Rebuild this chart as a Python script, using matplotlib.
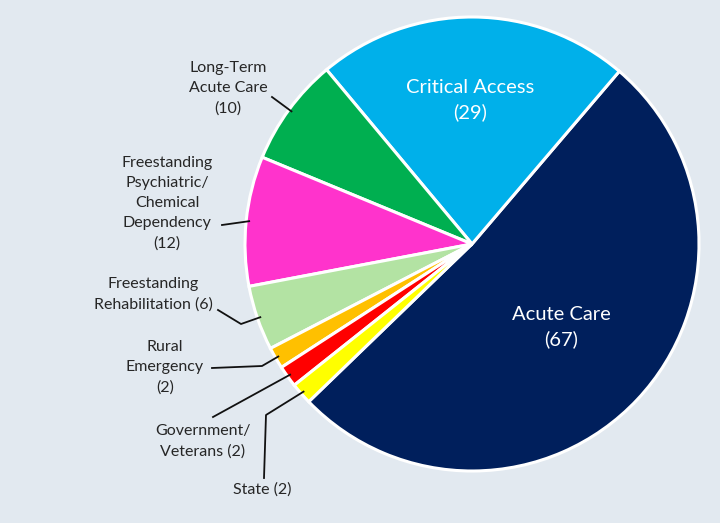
import numpy as np
import matplotlib
matplotlib.use("Agg")
import matplotlib.pyplot as plt

plt.rcParams['font.family'] = ['Lato', 'DejaVu Sans']

# hospital counts by type
names = ["Acute Care", "Critical Access", "Long-Term\nAcute Care", "Freestanding\nPsychiatric/\nChemical\nDependency",
         "Freestanding\nRehabilitation", "Rural\nEmergency", "Government/\nVeterans", "State"]
counts = [67, 29, 10, 12, 6, 2, 2, 2]
colors = ["#001F5C", "#00B0EA", "#00AF50", "#FF33CC", "#B3E3A3", "#FFC000", "#FF0000", "#FFFF00"]

bg = "#E2E9F0"
fig = plt.figure(figsize=(7.2, 5.23), dpi=100, facecolor=bg)
ax = fig.add_axes([0, 0, 1, 1])
ax.set_facecolor(bg)
H = 523
cx, cy, r = 472, H - 244, 227
wedges, _ = ax.pie(counts, colors=colors, startangle=-136, center=(cx, cy), radius=r,
                   wedgeprops=dict(edgecolor="white", linewidth=2.2))
ax.set_xlim(0, 720)
ax.set_ylim(0, H)
ax.set_aspect("equal")
ax.axis("off")

# inner labels
ax.text(470, H - 100, f"{names[1]}\n({counts[1]})", color="white", fontsize=14.5,
        ha="center", va="center", linespacing=1.5)
ax.text(561, H - 327, f"{names[0]}\n({counts[0]})", color="white", fontsize=14.5,
        ha="center", va="center", linespacing=1.5)

# outer labels: text centre and leader line points (image pixels, y down)
outer = {
    2: ((228, 88), [(272, 97)], False),
    3: ((167, 203), [(222, 225)], False),
    4: ((153, 294), [(218, 310), (241, 324)], True),
    5: ((165, 367), [(212, 368), (262, 366)], False),
    6: ((203, 441), [(213, 417)], True),
    7: ((262, 490), [(264, 478), (266, 415)], True),
}
for i, (pos, pts, inline) in outer.items():
    w = wedges[i]
    mid = np.deg2rad((w.theta1 + w.theta2) / 2)
    ax_, ay_ = cx + (r - 3) * np.cos(mid), cy + (r - 3) * np.sin(mid)
    if inline:
        txt = f"{names[i]} ({counts[i]})"
    else:
        txt = f"{names[i]}\n({counts[i]})"
    ax.text(pos[0], H - pos[1], txt, fontsize=11.5, color="#262626", ha="center", va="center",
            linespacing=1.55)
    xs = [p[0] for p in pts] + [ax_]
    ys = [H - p[1] for p in pts] + [ay_]
    ax.plot(xs, ys, color="#111111", linewidth=1.3)

fig.savefig("out.png", dpi=100, facecolor=bg)
